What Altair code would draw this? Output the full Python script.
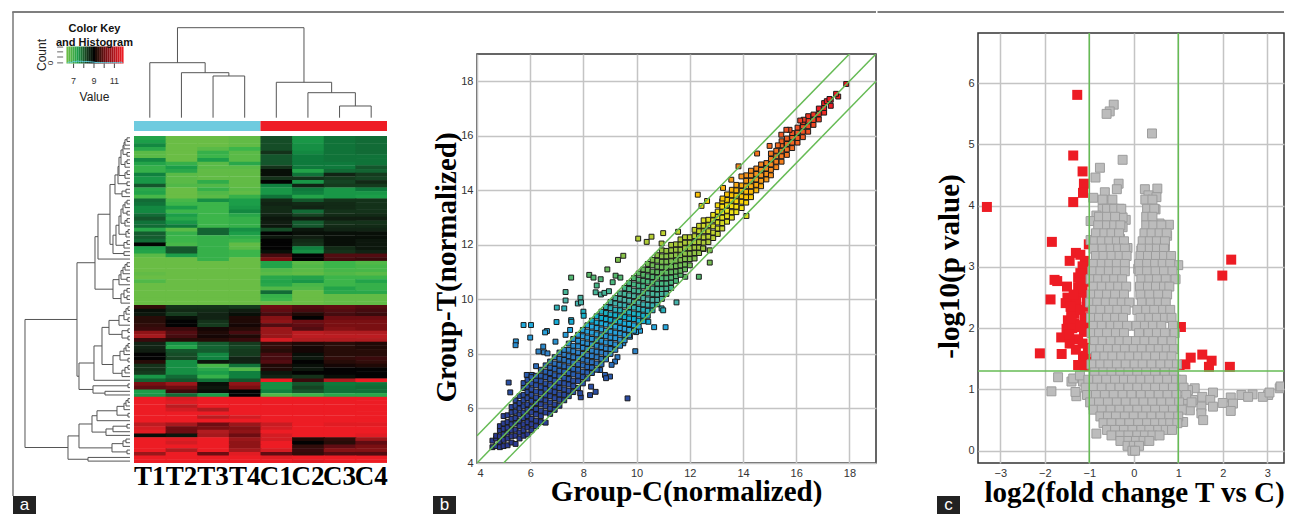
import altair as alt
import pandas as pd

# ---------- panel a: heat map values (T1 T2 T3 T4 C1 C2 C3 C4), hand read row by row
heat_rows = [
[6.9,6.0,6.0,6.1,8.1,7.1,7.6,7.7],[7.0,6.0,6.0,6.1,8.1,7.1,7.6,7.7],[7.3,6.0,6.0,6.1,8.1,7.2,7.6,7.7],
[6.8,6.0,6.2,6.5,8.1,7.2,7.6,7.7],[6.2,6.0,6.6,6.2,8.4,7.3,7.6,7.7],[6.2,6.0,6.5,6.2,8.0,7.5,7.6,7.6],
[7.3,6.0,7.0,6.2,8.0,7.5,7.6,7.6],[6.9,6.6,6.2,6.8,8.0,7.5,7.5,7.6],[6.6,7.0,6.2,6.2,8.4,7.5,7.5,8.0],
[6.6,6.8,6.1,6.1,8.9,6.9,7.7,7.8],[7.4,6.2,6.1,6.1,8.9,7.6,8.6,8.3],[7.1,6.2,6.1,6.1,8.4,8.4,8.3,8.2],
[7.1,6.2,6.7,6.1,9.0,7.1,8.2,8.5],[8.0,6.3,6.3,6.1,7.4,8.6,8.3,8.3],[6.8,6.0,6.6,6.2,7.1,7.5,7.1,7.5],
[6.9,6.0,6.3,6.1,7.1,7.4,7.1,7.1],[6.4,6.0,6.2,6.6,7.6,6.9,7.1,7.0],[7.7,6.4,7.2,7.0,8.5,8.0,8.4,8.4],
[7.6,6.5,6.5,7.0,8.6,8.5,8.5,8.4],[7.3,7.0,6.5,7.1,8.5,8.6,8.5,8.4],[7.3,6.5,6.5,7.3,8.5,7.7,8.4,8.4],
[7.7,7.0,6.5,6.8,8.6,8.2,8.5,8.5],[8.0,6.8,6.5,6.6,8.8,8.7,8.7,8.7],[7.6,7.1,6.5,6.6,8.7,7.9,8.4,8.4],
[7.7,7.5,6.5,6.6,8.8,8.0,8.5,8.5],[6.8,6.2,7.8,7.2,8.1,8.8,8.6,8.6],[7.9,6.6,7.8,7.0,9.0,8.9,8.9,8.9],
[7.9,6.5,6.6,6.7,8.8,8.7,8.9,8.9],[7.7,6.5,6.6,6.5,9.0,8.5,8.9,8.8],[9.0,6.4,6.6,6.1,9.0,8.4,8.9,8.8],
[7.0,8.0,6.6,6.2,9.0,7.4,8.5,8.8],[6.9,8.0,6.6,6.5,8.9,7.2,8.4,8.6],[6.2,7.0,6.6,6.5,9.6,9.0,9.7,9.7],
[6.0,6.0,6.6,6.0,10.0,9.0,9.6,9.5],[6.0,6.0,6.0,6.0,6.9,6.2,6.5,6.3],[6.0,6.0,6.0,6.0,6.9,6.3,6.5,6.4],
[6.0,6.0,6.0,6.0,6.3,6.2,6.4,6.4],[6.1,6.0,6.0,6.0,6.2,6.1,6.3,6.2],[6.0,6.0,6.0,6.0,6.8,6.9,6.5,6.5],
[6.3,6.0,6.0,6.0,6.9,7.1,6.5,6.9],[6.0,6.0,6.0,6.0,6.8,6.4,6.5,6.6],[6.0,6.0,6.0,6.0,6.3,6.3,6.9,6.6],
[6.0,6.0,6.0,6.0,7.7,6.0,6.8,6.8],[6.0,6.0,6.0,6.0,6.6,6.0,6.1,6.1],[6.0,6.0,6.0,6.0,6.5,6.0,6.1,6.1],
[6.0,6.0,6.0,6.0,6.0,6.0,6.1,6.1],[9.4,8.4,8.4,8.3,9.9,9.7,9.8,9.7],[8.9,8.5,8.5,8.7,9.8,9.6,9.7,9.6],
[8.8,8.3,8.6,8.9,9.6,9.2,9.6,9.5],[9.3,8.9,8.6,9.2,10.1,9.0,9.9,9.9],[9.3,9.0,8.4,9.2,10.2,9.9,10.0,10.0],
[9.4,9.0,8.3,9.1,9.7,9.8,10.0,10.0],[9.5,9.5,9.1,9.3,10.3,9.7,10.1,10.0],[10.2,9.7,9.2,9.6,10.3,10.6,10.5,10.5],
[10.4,9.6,9.1,9.2,10.3,10.6,10.6,10.6],[9.5,9.3,9.3,9.5,10.8,10.5,10.5,10.5],[8.6,7.2,7.9,8.3,9.4,9.2,9.3,9.2],
[8.6,6.9,7.8,8.2,9.4,9.1,9.3,9.2],[8.7,8.0,7.9,8.3,9.3,9.1,9.3,9.3],[9.0,8.1,7.3,8.3,9.6,8.9,9.3,9.3],
[9.0,8.2,7.4,8.6,9.6,8.8,9.4,9.5],[9.3,7.2,8.8,8.6,9.7,9.0,9.3,9.4],[8.4,7.2,6.4,7.6,9.2,8.9,9.1,9.2],
[8.4,7.2,6.8,6.3,9.2,8.8,9.0,9.0],[8.3,7.2,7.0,7.4,8.8,9.0,9.0,9.0],[7.1,7.7,6.6,7.4,8.6,8.4,8.9,9.0],
[7.8,8.0,7.6,8.0,11.0,9.5,10.5,11.0],[10.0,10.3,8.9,10.2,7.2,8.0,7.5,7.6],[9.8,9.9,8.8,10.0,7.2,8.2,7.6,7.7],
[7.0,9.5,8.9,9.0,7.4,8.0,7.6,7.6],[7.1,7.7,7.0,9.0,6.3,6.5,6.8,6.8],[11,10.8,11,11,11,11,11,11],
[11,10.9,11,11,11,11,11,11],[11,10.6,11,11,11,11,11,11],[11,10.8,10.5,11,11,11,11,11],
[11,11,11,11,11,11,11,11],[11,11,10.6,10.8,11,11,11,11],[11,11,11,11,11,11,11,11],
[10.6,10.4,9.9,10.3,10.7,11,10.9,10.9],[10.8,9.9,10.0,10.1,10.8,11,11,11],[10.9,9.9,10.5,10.2,11,11,11,11],
[8.9,8.8,10.4,9.9,10.8,11,11,10.9],[11,10.9,11,10.3,10.8,9.2,9.4,10.3],[11,10.8,11,10.2,11,9.0,9.3,9.8],
[11,11,11,10.2,11,9.4,9.8,10.0],[11,10.5,11,10.4,10.8,9.5,10.1,10.1],[10.3,11,9.9,10.9,9.8,9.4,9.7,9.7],
[11,11,11,11,10.9,11,11,11],[11,11,11,11,11,10.9,11,11],
]
col_labels = ["T1", "T2", "T3", "T4", "C1", "C2", "C3", "C4"]
heat_domain = [6.0, 6.5, 7.0, 7.5, 8.0, 8.5, 9.0, 9.5, 10.0, 10.5, 11.0]
heat_colors = ["#6abd45", "#3cb54a", "#1c9e49", "#0e7a3c", "#14562c", "#122a16",
               "#030303", "#3a0a0c", "#7a0f12", "#b01c20", "#ed1c24"]

# dendrograms: (merge height, first branch position, second branch position, first child height, second child height)
col_tree = [
    (60, 2.5, 3.5, 18.3, 18.3), (63.3, 1.5, 3.0, 18.3, 60), (73.3, 0.5, 2.25, 18.3, 63.3),
    (30, 6.5, 7.5, 18.3, 18.3), (43.3, 5.5, 7.0, 18.3, 30), (53.7, 4.5, 6.25, 18.3, 43.3),
    (108.3, 1.375, 5.375, 73.3, 53.7),
]
row_tree = [
    (7,0.5,1.5,4,4),(9,1,2.5,7,4),(10,1.75,3.5,9,4),(7,4.5,5.5,4,4),(11,2.6,5,10,7),(7,6.5,7.5,4,4),(9,7,8.5,7,4),
    (13,3.8,7.75,11,9),(7,9.5,10.5,4,4),(9,10,11.5,7,4),(15,5.8,10.75,13,9),(7,12.5,13.5,4,4),(16,8.3,13,15,7),
    (8,14.5,15.5,4,4),(12,15,16.5,8,4),(19,10.6,15.75,16,12),
    (7,17.5,18.5,4,4),(9,18,19.5,7,4),(7,20.5,21.5,4,4),(11,18.75,21,9,7),(7,22.5,23.5,4,4),(9,23,24.5,7,4),
    (13,19.9,23.75,11,9),(6,25.5,26.5,4,4),(8,26,27.5,6,4),(15,21.8,26.75,13,8),(7,28.5,29.5,4,4),(10,29,30.5,7,4),
    (18,24.3,29.75,15,10),(10,31.5,32.5,4,4),(21,27,32,18,10),(24,13.2,29.5,19,21),(36,21.3,33.5,24,4),
    (7,34.5,35.5,4,4),(9,35,36.5,7,4),(11,35.75,37.5,9,4),(7,38.5,39.5,4,4),(13,36.6,39,11,7),(15,37.8,40.5,13,4),
    (7,41.5,42.5,4,4),(7,43.5,44.5,4,4),(10,42,44,7,7),(13,43,45.5,10,4),(21,39.1,44.25,15,13),(39,27.4,41.7,36,21),
    (6,46.5,47.5,4,4),(8,47,48.5,6,4),(6,49.5,50.5,4,4),(10,47.75,50,8,6),(15,48.9,51.5,10,4),(6,52.5,53.5,4,4),
    (6,54.5,55.5,4,4),(12,53,55,6,6),(25,50.2,54,15,12),(6,56.5,57.5,4,4),(8,57,58.5,6,4),(10,57.75,59.5,8,4),
    (6,60.5,61.5,4,4),(14,58.6,61,10,6),(6,62.5,63.5,4,4),(9,63,64.5,6,4),(12,63.75,65.5,9,4),(21,59.8,64.6,14,12),
    (32,52.1,62.2,25,21),(40,57.15,66.5,32,4),(6,67.5,68.5,4,4),(29,69.5,70.5,4,4),(41,68,70,6,29),(55,61.8,69,40,41),
    (57,34.5,65.4,39,55),
    (6,71.5,72.5,4,4),(8,72,73.5,6,4),(10,72.75,74.5,8,4),(6,75.5,76.5,4,4),(17,73.6,76,10,6),(37,74.8,77.5,17,4),
    (7,78.5,79.5,4,4),(21,79,80.5,7,4),(28,79.75,81.5,21,4),(42,76.15,80.6,37,28),(8,82.5,83.5,4,4),(11,83,84.5,8,4),
    (7,85.5,86.5,4,4),(22,83.75,86,11,7),(55,78.4,84.9,42,22),(46,87.5,88.5,4,4),(66,81.65,88,55,46),
    (109,49.95,84.8,57,66),
]
key_values = [6.4, 6.6, 6.8, 7.0, 7.2, 7.4, 7.6, 7.8, 8.0, 8.2, 8.4, 8.6, 8.8, 9.0, 9.2, 9.4, 9.6, 9.8, 10.0, 10.2, 10.4, 10.6, 10.8, 11.0, 11.2, 11.4, 11.6, 11.8]
key_hist = [-19.95, -20.15, -20.0, -20.3, -20.2, -20.4, -20.3, -20.35, -20.2, -20.3, -20.25, -20.2, -20.15, -20.1, -20.0, -20.05, -19.95, -20.0, -19.95, -19.95, -20.0, -19.95, -19.95, -20.0, -19.95, -19.95, -20.1, -19.95]
key_ticks = [7, 8, 9, 10, 11]

# ---------- panel b: scatter, hand read (Group-C, Group-T)
dense_columns = {
4.58:[4.58,4.82],4.72:[4.62,4.9,5.0],4.86:[4.58,4.78,4.98,5.2,5.35],5.0:[4.62,4.85,5.05,5.25,5.45,5.72],
5.15:[4.65,4.9,5.12,5.3,5.5,5.75],5.3:[4.75,4.98,5.2,5.42,5.62,5.85,6.05],5.45:[4.7,5.0,5.22,5.45,5.65,5.88,6.1,6.3],
5.6:[4.9,5.12,5.35,5.55,5.78,6.0,6.2,6.45],5.75:[5.0,5.2,5.42,5.65,5.85,6.08,6.3,6.5,6.75],
5.9:[5.05,5.3,5.5,5.72,5.95,6.15,6.38,6.6,6.8,7.05],6.05:[5.2,5.42,5.62,5.85,6.05,6.28,6.5,6.7,6.92,7.15],
6.22:[5.35,5.55,5.78,5.98,6.2,6.4,6.62,6.85,7.05,7.2],6.4:[5.5,5.72,5.92,6.15,6.35,6.58,6.78,7.0,7.2,7.42],
6.58:[5.48,5.85,6.08,6.3,6.5,6.72,6.92,7.15,7.35,7.58],6.75:[5.8,6.0,6.22,6.45,6.65,6.85,7.08,7.3,7.5,7.72],
6.92:[5.95,6.15,6.38,6.6,6.8,7.02,7.22,7.45,7.65,7.88],7.1:[6.1,6.32,6.52,6.75,6.95,7.18,7.38,7.6,7.82,8.05],
7.28:[6.3,6.5,6.7,6.92,7.12,7.35,7.55,7.78,7.98,8.15],7.45:[6.45,6.65,6.88,7.08,7.3,7.5,7.72,7.92,8.15,8.38],
7.62:[6.6,6.82,7.02,7.25,7.45,7.68,7.88,8.1,8.3,8.55],7.8:[6.75,7.0,7.2,7.42,7.62,7.85,8.05,8.28,8.48,8.7],
7.98:[6.92,7.15,7.35,7.58,7.8,8.0,8.22,8.42,8.65,8.88],8.15:[7.1,7.32,7.52,7.75,7.95,8.18,8.38,8.6,8.82,9.05],
8.32:[7.3,7.5,7.7,7.92,8.12,8.35,8.55,8.78,9.0,9.22],8.5:[7.42,7.65,7.88,8.08,8.3,8.5,8.72,8.95,9.15,9.38],
8.68:[7.62,7.82,8.05,8.25,8.48,8.68,8.9,9.12,9.32,9.55],8.85:[7.8,8.0,8.2,8.42,8.65,8.85,9.08,9.28,9.5,9.72],
9.02:[8.0,8.18,8.4,8.6,8.82,9.02,9.25,9.45,9.68,9.9],9.2:[8.15,8.35,8.58,8.78,9.0,9.2,9.42,9.62,9.85,10.05],
9.38:[8.3,8.52,8.75,8.95,9.18,9.38,9.6,9.8,10.02,10.22],9.55:[8.5,8.7,8.92,9.12,9.35,9.55,9.78,9.98,10.2,10.42],
9.72:[8.68,8.88,9.1,9.3,9.52,9.72,9.95,10.15,10.38,10.6],9.9:[8.85,9.05,9.28,9.48,9.7,9.9,10.12,10.32,10.55,10.78],
10.08:[9.0,9.22,9.45,9.65,9.88,10.08,10.3,10.5,10.72,10.95],10.25:[9.2,9.4,9.62,9.82,10.05,10.25,10.48,10.68,10.9,11.1],
10.42:[9.4,9.58,9.8,10.0,10.22,10.42,10.65,10.85,11.08,11.3],10.6:[9.6,9.78,9.98,10.2,10.4,10.62,10.82,11.02,11.25,11.45],
10.78:[9.82,9.98,10.18,10.38,10.58,10.8,11.0,11.2,11.42,11.62],10.95:[10.02,10.2,10.38,10.58,10.78,10.98,11.18,11.38,11.58,11.8],
11.12:[10.2,10.4,10.58,10.78,10.98,11.18,11.38,11.58,11.78],11.3:[10.42,10.62,10.8,11.0,11.2,11.4,11.6,11.8,12.0],
11.48:[10.68,10.85,11.02,11.22,11.42,11.62,11.82,12.02],11.65:[10.9,11.05,11.25,11.45,11.62,11.82,12.02,12.2],
11.82:[11.1,11.28,11.48,11.68,11.88,12.08,12.28],12.0:[11.25,11.48,11.68,11.88,12.08,12.28],
12.18:[11.5,11.7,11.9,12.1,12.32,12.55],12.35:[11.7,11.9,12.1,12.3,12.5,12.7],12.52:[11.85,12.08,12.28,12.5,12.7,12.9],
12.7:[12.1,12.3,12.5,12.72,12.92],12.88:[12.25,12.45,12.68,12.9,13.1],13.05:[12.4,12.6,12.82,13.02,13.22,13.45],
13.22:[12.6,12.8,13.0,13.2,13.4,13.6],13.4:[12.85,13.05,13.25,13.45,13.65,13.85],13.58:[13.0,13.2,13.42,13.62,13.82,14.02],
13.75:[13.2,13.4,13.6,13.8,14.0,14.2],13.95:[13.35,13.58,13.78,13.98,14.18],14.12:[13.55,13.75,13.95,14.15,14.35,14.55],
14.3:[13.75,13.95,14.15,14.35,14.55,14.72],14.5:[14.0,14.2,14.4,14.6,14.8],14.68:[14.15,14.35,14.55,14.75,14.95],
14.88:[14.4,14.6,14.8,15.0],15.05:[14.55,14.75,14.95,15.15,15.35],15.25:[14.85,15.05,15.25,15.45],15.45:[15.05,15.25,15.45,15.65,15.8],
15.65:[15.3,15.5,15.7,15.9],15.85:[15.55,15.75,15.95,16.1],16.05:[15.75,15.92,16.12,16.3],16.25:[15.95,16.15,16.35,16.5],
16.45:[16.15,16.35,16.55,16.72],16.65:[16.4,16.58,16.78],16.85:[16.6,16.8,17.0],17.05:[16.85,17.02,17.2],17.3:[17.1,17.32],
}
upper_c = [17.88,17.5,17.58,17.25,17.15,16.15,16.28,15.63,15.75,15.44,15.0,15.31,14.53,13.83,13.94,13.56,13.25,13.23,12.65,12.44,14.13,12.3,11.56,11.0,10.56,10.06,10.38,10.94,12.75,12.75,12.5]
upper_t = [17.9,17.54,17.44,17.35,17.27,16.56,16.59,16.22,16.22,16.04,15.63,15.65,15.35,14.88,14.51,14.39,14.09,13.7,13.61,13.43,13.06,13.84,12.48,12.43,12.3,12.23,12.11,12.05,11.8,11.35,11.87]
out_c = [7.54,8.22,8.38,8.65,9.1,9.21,9.39,8.5,8.46,8.66,8.79,8.96,7.33,7.33,7.89,7.79,7.91,7.0,7.28,8.0,8.01,6.99,7.54,7.55,5.75,6.03,6.0,5.46,5.45,6.63,6.56,6.95,7.33,7.5,6.49,6.31,6.52,6.65,6.22,5.19,5.25,5.75,5.87,6.06,12.34,11.83,11.5,10.94,11.0,10.44,10.66,11.09,10.13,9.98,9.95,9.75,9.5,9.28,9.19,9.06,9.0,8.81,8.85,8.29,8.46,8.25,7.9,7.88,9.66,8.63,9.5,8.9,9.3]
out_t = [10.8,10.9,10.8,10.74,10.63,10.87,10.8,10.51,10.26,10.18,10.24,10.3,10.27,9.96,10.06,9.85,9.89,9.7,9.67,9.55,9.4,9.17,9.24,9.18,9.06,9.06,8.6,8.46,8.32,8.84,8.79,8.45,8.7,8.88,8.27,8.09,8.06,8.02,7.55,6.95,6.59,6.93,7.23,7.23,10.83,10.83,9.89,9.67,9.6,9.18,8.98,8.98,8.85,8.8,8.1,8.63,8.39,7.88,7.72,7.6,7.17,7.23,7.11,6.8,6.61,6.49,6.41,6.56,6.37,7.41,11.6,11.1,11.45]
fc_c = [4, 19, 4, 18, 5, 19]
fc_t = [4, 19, 5, 19, 4, 18]
fc_line = ["mid", "mid", "up", "up", "down", "down"]
jet_domain = [5, 7, 8, 9, 10, 11, 12, 13.3, 14.5, 16, 17]
jet_colors = ["#2b3990", "#2a52a8", "#2f80c6", "#27aae1", "#4eb3a5", "#5fb85f", "#a8c83a", "#f5e614", "#f7941d", "#f15a24", "#ed1c24"]

# ---------- panel c: volcano, hand read (log2 fold change, -log10 p)
red_x = [-1.27,-1.36,-1.15,-1.12,-1.14,-1.36,-3.3,-1.84,-1.01,-1.3,-1.44,-1.1,-1.15,2.19,-1.14,1.99,-1.78,-1.72,-1.5,-1.25,-1.1,-1.25,-1.18,-1.87,-1.49,-1.53,-1.29,-1.33,-1.06,-1.48,-1.33,-1.1,-1.33,-1.51,-1.29,-1.12,-1.63,-1.25,-1.44,-1.03,-2.11,-1.62,-1.14,-1.25,-1.1,1.06,1.03,1.16,1.28,1.54,1.75,1.69,2.16,-1.4,-1.2,-1.02,-1.05,-1.2,-1.15,-1.35,-1.05,-1.4,-1.2,-1.38,-1.2,-1.45,-1.15,-1.3,-1.08,-1.42,-1.05,-1.2]
red_y = [5.81,4.82,4.56,4.36,4.21,4.06,3.98,3.41,3.37,3.23,3.1,3.1,3.01,3.12,3.0,2.86,2.79,2.77,2.68,2.83,2.76,2.67,2.58,2.47,2.5,2.41,2.43,2.32,2.35,2.13,2.24,2.18,2.08,1.99,2.02,1.94,1.85,1.82,1.75,1.68,1.59,1.58,1.53,1.4,1.38,2.02,1.4,1.41,1.52,1.57,1.47,1.37,1.37,2.2,2.9,2.1,1.45,2.75,2.65,2.55,2.5,2.2,2.3,2.0,2.05,1.9,1.75,1.65,1.55,2.35,2.9,3.2]
gray_out_x = [-0.45,-0.54,-0.61,0.41,-0.25,-0.76,-0.86,-0.34,-0.38,-0.91,-0.65,0.25,0.53,0.33,0.51,-0.61,-0.51,0.31,-0.7,-0.32,0.49,0.31,-0.84,-0.18,-0.25,-0.97,-0.69,0.4,0.58,0.79,-0.25,-0.48,-0.65,0.55,0.36,0.75,-0.97,-0.8,-0.31,-0.52,0.64,-0.39,0.21,0.7,-0.14,0.17,0.55,-0.76,-0.43,0.32,-0.84,-0.61,0.58,-0.58,0.79,1.0,0.1,3.28,3.3,3.02,2.9,3.05,2.67,2.42,2.57,2.18,2.0,2.23,2.18,1.78,1.37,1.22,1.54,1.72,1.78,1.52,1.26,1.52,1.56,1.11,1.15,1.33,-1.7,-1.85,-1.29,-1.4,-1.36,-1.14,-1.21,-1.31,-0.91,-0.84]
gray_out_y = [5.65,5.54,5.5,5.18,4.75,4.62,4.46,4.36,4.27,4.13,4.22,4.27,4.28,4.17,4.14,4.09,4.01,4.04,3.95,3.95,3.94,3.88,3.84,3.77,3.81,3.75,3.71,3.7,3.71,3.69,3.65,3.61,3.57,3.6,3.53,3.51,3.44,3.5,3.46,3.37,3.45,3.33,3.36,3.34,3.31,3.27,3.33,3.26,3.17,3.12,3.11,3.14,3.14,3.06,3.01,3.03,2.97,1.02,1.05,0.91,0.88,0.95,0.92,0.91,0.88,0.87,0.78,0.77,0.65,0.95,1.02,0.99,0.88,0.83,0.72,0.72,0.66,0.61,0.5,0.47,0.83,0.83,1.2,0.97,0.89,1.13,1.18,1.13,1.23,0.96,0.74,0.28]
gray_rows = {
4.1:[-0.7,-0.48,0.26,0.42],3.95:[-0.6,-0.44,-0.28,0.3,0.46],3.82:[-0.78,-0.6,-0.42,0.28,0.42],3.68:[-0.8,-0.6,-0.44,-0.3,0.28,0.44,0.62],
3.55:[-0.85,-0.66,-0.5,-0.33,0.24,0.4,0.58,0.74],3.42:[-0.88,-0.72,-0.55,-0.38,-0.22,0.2,0.36,0.52,0.7],3.3:[-0.9,-0.7,-0.52,-0.35,-0.2,0.18,0.36,0.52,0.68],
3.18:[-0.85,-0.68,-0.5,-0.32,-0.16,0.15,0.32,0.5,0.68,0.84],3.05:[-0.9,-0.72,-0.55,-0.38,-0.2,0.12,0.3,0.48,0.65,0.82],
2.93:[-0.93,-0.75,-0.56,-0.38,-0.2,0.13,0.3,0.49,0.68,0.87],2.8:[-0.97,-0.8,-0.62,-0.44,-0.26,0.17,0.35,0.52,0.72,0.94],
2.68:[-0.9,-0.72,-0.53,-0.35,-0.17,0.14,0.32,0.5,0.68,0.8],2.55:[-0.95,-0.78,-0.6,-0.42,-0.22,0.15,0.35,0.55,0.75],
2.42:[-0.98,-0.82,-0.63,-0.45,-0.27,-0.1,0.18,0.38,0.56,0.72],2.3:[-0.92,-0.75,-0.55,-0.37,-0.18,0.08,0.28,0.46,0.66,0.82],
2.17:[-0.96,-0.78,-0.6,-0.42,-0.24,0.15,0.35,0.52,0.7,0.85],2.04:[-0.9,-0.72,-0.52,-0.35,-0.15,0.06,0.25,0.43,0.62,0.88],
1.92:[-0.95,-0.78,-0.6,-0.4,-0.22,0.12,0.33,0.52,0.7,0.92],1.79:[-0.88,-0.7,-0.52,-0.32,-0.14,0.05,0.24,0.44,0.65,0.85],
1.66:[-0.92,-0.75,-0.58,-0.38,-0.2,0.0,0.18,0.38,0.56,0.74,0.9],1.54:[-0.85,-0.66,-0.48,-0.28,-0.1,0.1,0.28,0.48,0.68,0.85],
1.41:[-0.95,-0.75,-0.57,-0.38,-0.18,0.02,0.2,0.4,0.6,0.8,0.97],1.28:[-0.88,-0.68,-0.5,-0.3,-0.12,0.08,0.28,0.48,0.7,0.9],
1.16:[-1.02,-0.82,-0.62,-0.42,-0.22,-0.04,0.15,0.35,0.55,0.75,0.95,1.08],1.03:[-1.08,-0.9,-0.72,-0.52,-0.32,-0.12,0.08,0.28,0.48,0.68,0.88,1.12],
0.91:[-1.05,-0.85,-0.65,-0.45,-0.25,-0.05,0.16,0.36,0.56,0.76,0.96,1.18],0.79:[-0.98,-0.78,-0.58,-0.38,-0.18,0.02,0.22,0.42,0.62,0.82,1.02,1.3],
0.67:[-0.9,-0.72,-0.52,-0.32,-0.12,0.08,0.28,0.48,0.68,0.88,1.08],0.56:[-0.75,-0.58,-0.4,-0.2,0.0,0.2,0.4,0.6,0.8,1.0],
0.45:[-0.68,-0.5,-0.3,-0.1,0.1,0.3,0.48,0.66,0.82,0.98],0.34:[-0.6,-0.42,-0.22,-0.03,0.17,0.35,0.55,0.72,0.86],
0.25:[-0.5,-0.3,-0.12,0.08,0.25,0.42,0.58],0.16:[-0.3,-0.12,0.05,0.22,0.35],0.08:[-0.14,0.0,0.12],0.0:[-0.03,0.03],
}

# ---------- sizes of the panels
A_W, H = 410, 506
U_X, U_Y = 31.625, 3.674     # one heat-map column / row in the tree's height units
GREEN = "#66bb55"
SANS, SERIF = "Liberation Sans", "Liberation Serif"

x_a = alt.Scale(domain=[-3.984, -3.984 + A_W / U_X], nice=False, zero=False)
y_a = alt.Scale(domain=[102.9, -34.84], nice=False, zero=False)
heat_color = alt.Scale(domain=heat_domain, range=heat_colors, clamp=True)

heat_df = pd.DataFrame([
    {"c0": c, "c1": c + (1.03 if c < 7 else 1), "r0": r, "r1": r + (1.12 if r < 88 else 1), "v": v}
    for r, row in enumerate(heat_rows) for c, v in enumerate(row)
])
X = lambda f: alt.X(f, type="quantitative", scale=x_a, axis=None)
Y = lambda f: alt.Y(f, type="quantitative", scale=y_a, axis=None)

heat = alt.Chart(heat_df).mark_rect().encode(
    x=X("c0"), x2="c1", y=Y("r0"), y2="r1",
    color=alt.Color("v:Q", scale=heat_color, legend=None),
)

strip_df = pd.DataFrame({"c0": [0, 4], "c1": [4, 8], "r0": [-4.1, -4.1], "r1": [-1.36, -1.36],
                         "g": ["T", "C"]})
strip = alt.Chart(strip_df).mark_rect().encode(
    x=X("c0"), x2="c1", y=Y("r0"), y2="r1",
    color=alt.Color("g:N", scale=alt.Scale(domain=["T", "C"], range=["#6ecbdf", "#ee1c25"]), legend=None),
)

segs = []
for h, a, b, ha, hb in row_tree:
    segs.append(dict(x=-h / U_X, x2=-h / U_X, y=a, y2=b))
    segs.append(dict(x=-h / U_X, x2=-ha / U_X, y=a, y2=a))
    segs.append(dict(x=-h / U_X, x2=-hb / U_X, y=b, y2=b))
for h, a, b, ha, hb in col_tree:
    segs.append(dict(x=a, x2=b, y=-h / U_Y, y2=-h / U_Y))
    segs.append(dict(x=a, x2=a, y=-h / U_Y, y2=-ha / U_Y))
    segs.append(dict(x=b, x2=b, y=-h / U_Y, y2=-hb / U_Y))
tree = alt.Chart(pd.DataFrame(segs)).mark_rule(color="#555555", strokeWidth=1).encode(
    x=X("x"), x2="x2", y=Y("y"), y2="y2")

collab_df = pd.DataFrame({"c": [i + 0.5 for i in range(8)], "r": [94.9] * 8, "t": col_labels})
collab = alt.Chart(collab_df).mark_text(font=SERIF, fontWeight="bold", fontSize=27, color="#000000",
                                        baseline="alphabetic").encode(x=X("c"), y=Y("r"), text="t:N")

# colour key: value 9 sits at column unit -1.265, one value unit is 0.3225 column units
kx = lambda v: -1.265 + (v - 9) * 0.3225
key_df = pd.DataFrame({"x": [kx(v - 0.1) for v in key_values], "x1": [kx(v + 0.1) for v in key_values],
                       "y": [-24.36] * len(key_values), "y1": [-19.73] * len(key_values), "v": key_values})
key = alt.Chart(key_df).mark_rect().encode(
    x=X("x"), x2="x1", y=Y("y"), y2="y1",
    color=alt.Color("v:Q", scale=alt.Scale(domain=[6.4, 7.4, 8.5, 9, 10, 11.8],
                    range=["#6abd45", "#1c9e49", "#122a16", "#030303", "#6a0f12", "#ed1c24"]), legend=None))
hist_df = pd.DataFrame({"x": [kx(v) for v in key_values], "y": key_hist})
hist = alt.Chart(hist_df).mark_line(color="#63cfe0", strokeWidth=1).encode(x=X("x"), y=Y("y"))
ktick_df = pd.DataFrame({"x": [kx(v) for v in key_ticks], "y": [-19.73] * 5, "y2": [-18.5] * 5})
kticks = alt.Chart(ktick_df).mark_rule(color="#444444").encode(x=X("x"), y=Y("y"), y2="y2")
ctick_df = pd.DataFrame({"x": [-2.43] * 4, "x2": [-2.24] * 4, "y": [-24.2, -22.9, -21.5, -19.9]})
cticks = alt.Chart(ctick_df).mark_rule(color="#666666").encode(x=X("x"), x2="x2", y=Y("y"))
klab_df = pd.DataFrame({"x": [kx(7), kx(9), kx(11)], "y": [-14.9] * 3, "t": ["7", "9", "11"]})
klab = alt.Chart(klab_df).mark_text(font=SANS, fontSize=9, color="#333333", baseline="middle").encode(
    x=X("x"), y=Y("y"), text="t:N")


def label(text, x, y, size=12, weight="normal", angle=0, font=SANS, color="#222222"):
    return alt.Chart(pd.DataFrame({"t": [text]})).mark_text(
        font=font, fontSize=size, fontWeight=weight, angle=angle, color=color, baseline="middle"
    ).encode(x=alt.value(x), y=alt.value(y), text="t:N")


def frame_top(x0, x1):
    # a thin filled bar: it has no stroke, so neighbouring panels abut without a break
    return alt.Chart(pd.DataFrame({"t": [0]})).mark_rect(color="#555555").encode(
        x=alt.value(x0), x2=alt.value(x1), y=alt.value(3.25), y2=alt.value(4.75))


def letter_box(ch, x0, y0):
    box = alt.Chart(pd.DataFrame({"t": [0]})).mark_rect(color="#222222").encode(
        x=alt.value(x0), x2=alt.value(x0 + 23), y=alt.value(y0), y2=alt.value(y0 + 18))
    return box + label(ch, x0 + 11.5, y0 + 9, size=17, color="#ffffff")


frame_l = alt.Chart(pd.DataFrame({"t": [0]})).mark_rule(color="#777777", strokeWidth=1.5).encode(
    x=alt.value(5), y=alt.value(4), y2=alt.value(488))

panel_a = alt.layer(
    frame_top(4.25, A_W), frame_l, strip, heat, tree, collab, key, hist, kticks, cticks, klab,
    label("Color Key", 86.5, 21, size=11, weight="bold", color="#111111"),
    label("and Histogram", 86.5, 35, size=11, weight="bold", color="#111111"),
    label("Value", 86.5, 89, size=12),
    label("Count", 34, 47, size=12, angle=270),
    label("0", 43, 55, size=8, angle=270),
    letter_box("a", 5, 488),
).properties(width=A_W, height=H)


def empty(w):
    return alt.Chart(pd.DataFrame({"t": [0]})).mark_rule(opacity=0).encode(
        x=alt.value(0), x2=alt.value(w), y=alt.value(0))


axis_base = dict(grid=True, gridColor="#c4c4c4", gridWidth=1.5, ticks=False, domain=False,
                 labelFont=SANS, labelFontSize=11, labelColor="#333333", labelPadding=4,
                 titleFont=SERIF, titleFontWeight="bold", titleFontSize=29, titleColor="#000000",
                 titleBaseline="alphabetic")

# ---------- panel b
bx, by = [], []
bx += out_c
by += out_t
for c, ts in dense_columns.items():
    bx += [c] * len(ts)
    by += ts
bx += upper_c[::-1]
by += upper_t[::-1]
scatter_df = pd.DataFrame({"c": bx, "t": by})
sx = alt.Scale(domain=[4, 19], nice=False, zero=False)
sy = alt.Scale(domain=[4, 19], nice=False, zero=False)
ticks_b = list(range(4, 20, 2))
ax_bx = alt.Axis(values=ticks_b, title="Group-C(normalized)", format="d", titleX=209, titleY=37, **axis_base)
ax_by = alt.Axis(values=ticks_b, title="Group-T(normalized)", format="d", titleX=-22, titleY=213, **axis_base)
pts_b = alt.Chart(scatter_df).mark_square(size=24, stroke="#1a1a1a", strokeWidth=1, opacity=1, clip=True).encode(
    x=alt.X("c:Q", scale=sx, axis=ax_bx),
    y=alt.Y("t:Q", scale=sy, axis=ax_by),
    fill=alt.Color("t:Q", scale=alt.Scale(domain=jet_domain, range=jet_colors, clamp=True), legend=None),
)
fc_df = pd.DataFrame({"c": fc_c, "t": fc_t, "l": fc_line})
lines_b = alt.Chart(fc_df).mark_line(color=GREEN, strokeWidth=1.5, clip=True).encode(
    x=alt.X("c:Q", scale=sx, axis=ax_bx), y=alt.Y("t:Q", scale=sy, axis=ax_by), detail="l:N")
scatter = alt.layer(pts_b, lines_b).properties(
    width=399, height=409, view=alt.ViewBackground(stroke="#333333", strokeWidth=1.5))
col_b = alt.vconcat(
    alt.layer(frame_top(-59, 399)).properties(width=399, height=46),
    scatter,
    alt.layer(empty(399), letter_box("b", -44, 33)).properties(width=399, height=51),
    spacing=0, bounds="flush")

# ---------- panel c
gx, gy = [], []
for y, xs in gray_rows.items():
    gx += xs
    gy += [y] * len(xs)
gx = gray_out_x + gx
gy = gray_out_y + gy
V_W = 306
vx = alt.Scale(domain=[-3.5, -3.5 + V_W / 44.5], nice=False, zero=False)
vy = alt.Scale(domain=[-0.2, 6.82], nice=False, zero=False)
ax_vx = alt.Axis(values=list(range(-3, 4)), title="log2(fold change T vs C)", format="d", titleX=156, titleY=38, **axis_base)
ax_vy = alt.Axis(values=list(range(0, 7)), title="-log10(p value)", format="d", titleX=-20, titleY=233, **axis_base)
red = alt.Chart(pd.DataFrame({"x": red_x, "y": red_y})).mark_square(
    size=100, color="#ed1c24", opacity=1, clip=True).encode(
    x=alt.X("x:Q", scale=vx, axis=ax_vx), y=alt.Y("y:Q", scale=vy, axis=ax_vy))
gray = alt.Chart(pd.DataFrame({"x": gx, "y": gy})).mark_square(
    size=80, color="#bcbcbc", stroke="#9c9c9c", strokeWidth=1, opacity=1, clip=True).encode(
    x=alt.X("x:Q", scale=vx, axis=ax_vx), y=alt.Y("y:Q", scale=vy, axis=ax_vy))
v_lines = alt.Chart(pd.DataFrame({"x": [-1, 1]})).mark_rule(color=GREEN, strokeWidth=1.5).encode(
    x=alt.X("x:Q", scale=vx, axis=ax_vx))
h_line = alt.Chart(pd.DataFrame({"y": [1.301]})).mark_rule(color=GREEN, strokeWidth=1.5).encode(
    y=alt.Y("y:Q", scale=vy, axis=ax_vy))
volcano = alt.layer(red, gray, v_lines, h_line).properties(
    width=V_W, height=430, view=alt.ViewBackground(stroke="#333333", strokeWidth=1.5))
col_c = alt.vconcat(
    alt.layer(frame_top(-100.5, V_W)).properties(width=V_W, height=25),
    volcano,
    alt.layer(empty(V_W), letter_box("c", -41, 33)).properties(width=V_W, height=51),
    spacing=0, bounds="flush")

chart = alt.hconcat(panel_a, col_b, col_c, spacing=0).properties(padding=0).configure_view(stroke=None)

chart.save("out.html", embed_options={"renderer": "svg", "actions": False})
